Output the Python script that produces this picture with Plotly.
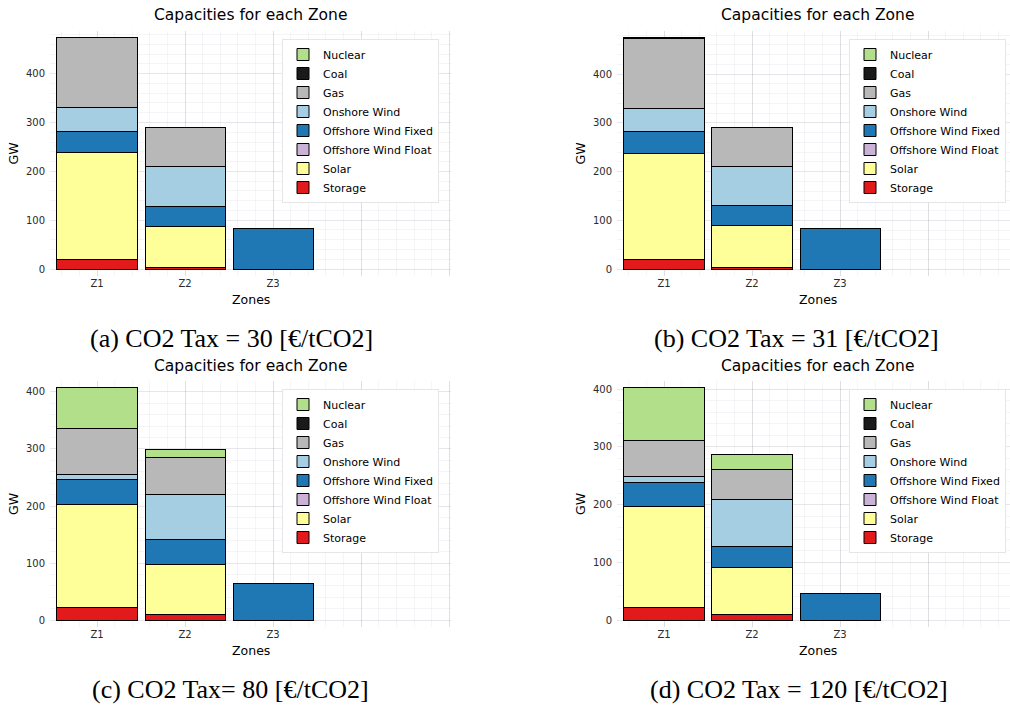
import plotly.graph_objects as go

# ---------------- data ----------------
zones = ["Z1", "Z2", "Z3"]
zone_pos = [0, 1, 2]
grid_ticks = [0, 1, 2, 3, 4]
grid_labels = ["Z1", "Z2", "Z3", "", ""]

techs = ["Storage", "Solar", "Offshore Wind Float", "Offshore Wind Fixed",
         "Onshore Wind", "Gas", "Coal", "Nuclear"]          # stacking order (bottom -> top)
tech_colors = ["#e31a1c", "#ffff99", "#cab2d6", "#1f78b4",
               "#a6cee3", "#b8b8b8", "#1a1a1a", "#b2df8a"]

# capacities in GW per zone [Z1, Z2, Z3]
tax30 = {"Storage": [19, 4, 0], "Solar": [219, 84, 0], "Offshore Wind Float": [0, 0, 0],
         "Offshore Wind Fixed": [44, 41, 83], "Onshore Wind": [48, 81, 0],
         "Gas": [143, 80, 0], "Coal": [0, 0, 0], "Nuclear": [0, 0, 0]}
tax31 = {"Storage": [19, 4, 0], "Solar": [218, 85, 0], "Offshore Wind Float": [0, 0, 0],
         "Offshore Wind Fixed": [45, 42, 84], "Onshore Wind": [48, 79, 0],
         "Gas": [143, 81, 0], "Coal": [1, 0, 0], "Nuclear": [0, 0, 0]}
tax80 = {"Storage": [22, 9, 0], "Solar": [181, 89, 0], "Offshore Wind Float": [0, 0, 0],
         "Offshore Wind Fixed": [44, 43, 64], "Onshore Wind": [9, 80, 0],
         "Gas": [80, 64, 0], "Coal": [0, 0, 0], "Nuclear": [71, 14, 0]}
tax120 = {"Storage": [21, 10, 0], "Solar": [175, 81, 0], "Offshore Wind Float": [0, 0, 0],
          "Offshore Wind Fixed": [43, 37, 46], "Onshore Wind": [9, 81, 0],
          "Gas": [63, 52, 0], "Coal": [0, 0, 0], "Nuclear": [91, 26, 0]}

captions = ["(a) CO2 Tax = 30 [€/tCO2]", "(b) CO2 Tax = 31 [€/tCO2]",
            "(c) CO2 Tax= 80 [€/tCO2]", "(d) CO2 Tax = 120 [€/tCO2]"]
scenarios = [tax30, tax31, tax80, tax120]

# ---------------- layout helpers ----------------
W, H = 1010, 705
def px_x(p): return p / W
def px_y(p): return 1 - p / H

panels = [
    dict(x0=50, x1=451, y0=31, y1=276, xr=[-0.534, 4.02]),
    dict(x0=617, x1=1010, y0=31, y1=276, xr=[-0.534, 3.93]),
    dict(x0=50, x1=451, y0=381, y1=627, xr=[-0.534, 4.02]),
    dict(x0=617, x1=1010, y0=381, y1=627, xr=[-0.534, 3.93]),
]
legend_names = ["legend", "legend2", "legend3", "legend4"]

font_family = "DejaVu Sans"
fig = go.Figure()
layout = dict(
    width=W, height=H, margin=dict(l=0, r=0, t=0, b=0),
    paper_bgcolor="white", plot_bgcolor="white",
    barmode="stack", bargap=0.09,
    font=dict(family=font_family, size=10, color="black"),
    annotations=[],
)

major_grid = "rgba(20,20,60,0.10)"
minor_grid = "rgba(20,20,60,0.045)"

for i, (scen, pn) in enumerate(zip(scenarios, panels)):
    sfx = "" if i == 0 else str(i + 1)
    xa, ya = "x" + sfx, "y" + sfx
    totals = [sum(scen[t][k] for t in techs) for k in range(len(zones))]
    tmax = max(totals)
    for t, c in zip(techs, tech_colors):
        fig.add_trace(go.Bar(
            x=zone_pos, y=scen[t], name=t, xaxis=xa, yaxis=ya,
            marker=dict(color=c, line=dict(color="black", width=1)),
            legend=legend_names[i], showlegend=True,
        ))
    layout["xaxis" + sfx] = dict(
        domain=[px_x(pn["x0"]), px_x(pn["x1"])], anchor=ya, range=pn["xr"],
        tickmode="array", tickvals=grid_ticks, ticktext=grid_labels,
        showgrid=True, gridcolor=major_grid, gridwidth=1, zeroline=False,
        showline=False, ticks="", tickfont=dict(size=10, color="#2a2a2a"),
        minor=dict(dtick=0.2, tick0=0, showgrid=True, gridcolor=minor_grid, gridwidth=1),
        fixedrange=True,
    )
    layout["yaxis" + sfx] = dict(
        domain=[px_y(pn["y1"]), px_y(pn["y0"])], anchor=xa,
        range=[-0.03 * tmax, 1.03 * tmax],
        tickmode="linear", tick0=0, dtick=100,
        showgrid=True, gridcolor=major_grid, gridwidth=1, zeroline=False,
        showline=False, ticks="outside", ticklen=2, tickcolor="rgba(0,0,0,0)",
        tickfont=dict(size=10, color="#2a2a2a"),
        minor=dict(dtick=20, tick0=0, showgrid=True, gridcolor=minor_grid, gridwidth=1),
        fixedrange=True,
    )
    layout[legend_names[i]] = dict(
        x=px_x(pn["x0"] + 232), y=px_y(pn["y0"] + 8), xanchor="left", yanchor="top",
        bgcolor="white", bordercolor="#e6e6ea", borderwidth=1,
        traceorder="reversed", font=dict(family=font_family, size=11, color="black"),
        itemclick=False, itemdoubleclick=False, tracegroupgap=0, itemwidth=30,
    )
    cx = (pn["x0"] + pn["x0"] + 401) / 2
    # title
    layout["annotations"].append(dict(
        text="Capacities for each Zone", x=px_x(cx), y=px_y(pn["y0"] - 15.5),
        xref="paper", yref="paper", xanchor="center", yanchor="middle",
        showarrow=False, font=dict(family=font_family, size=15.5, color="black")))
    # x axis title
    layout["annotations"].append(dict(
        text="Zones", x=px_x(cx), y=px_y(pn["y1"] + 23),
        xref="paper", yref="paper", xanchor="center", yanchor="middle",
        showarrow=False, font=dict(family=font_family, size=12.5, color="black")))
    # y axis title
    layout["annotations"].append(dict(
        text="GW", x=px_x(pn["x0"] - 37), y=px_y((pn["y0"] + pn["y1"]) / 2),
        xref="paper", yref="paper", xanchor="center", yanchor="middle", textangle=-90,
        showarrow=False, font=dict(family=font_family, size=12.5, color="black")))
    # caption
    cap_x = [231, 796, 230, 799][i]
    cap_y = [338, 338, 689, 689][i]
    layout["annotations"].append(dict(
        text=captions[i], x=px_x(cap_x), y=px_y(cap_y),
        xref="paper", yref="paper", xanchor="center", yanchor="middle",
        showarrow=False, font=dict(family="Liberation Serif", size=26, color="black")))

fig.update_layout(**layout)
fig.write_html("out.html")
